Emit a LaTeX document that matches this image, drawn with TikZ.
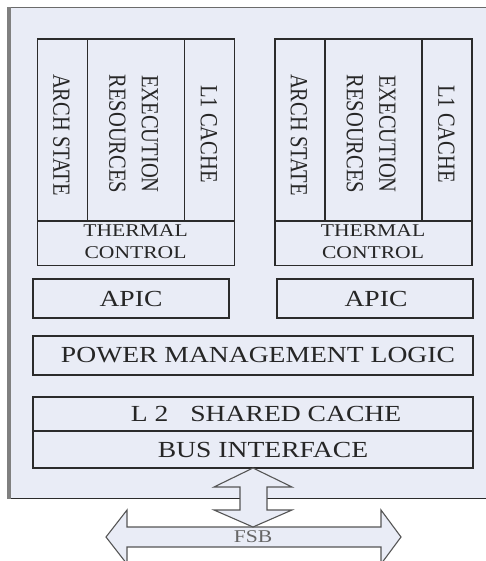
\documentclass[tikz,border=0pt]{standalone}
\usepackage{fontspec}
\setmainfont{Liberation Serif}
\usepackage{graphicx}

\definecolor{panelfill}{HTML}{E9ECF6}
\definecolor{edgecol}{HTML}{2B2B2B}
\definecolor{busedge}{HTML}{555555}

\newcommand{\wide}[1]{\scalebox{1.2}[1]{#1}}
\newcommand{\tall}[1]{\scalebox{1}[1.2]{#1}}

\tikzset{
  unit/.style={draw=edgecol, line width=1.3pt},
  lbl/.style={font=\fontsize{23}{27}\selectfont, text=black!85, inner sep=0pt},
  smalllbl/.style={font=\fontsize{18}{21}\selectfont, text=black!85, inner sep=0pt},
  vlbl/.style={font=\fontsize{20.5}{24}\selectfont, text=black!85, inner sep=0pt, rotate=-90},
  busarrow/.style={fill=panelfill, draw=busedge, line width=1.1pt, line join=miter},
}

\begin{document}
\begin{tikzpicture}[x=1pt, y=-1pt]
  \useasboundingbox (0,0) rectangle (486,561);
  \clip (0,0) rectangle (486,561);
  % chip outline
  \fill[panelfill] (9,7.5) rectangle (490,498.5);
  \draw[edgecol!70, line width=1pt] (9,7.5) -- (490,7.5);
  \draw[edgecol, line width=1pt] (9,498.5) -- (490,498.5);
  \draw[gray, line width=3.5pt] (9,7.5) -- (9,498.5);
  % two cores
  \foreach \x/\n in {37.5/L, 275/R} {
    \begin{scope}[xshift=\x pt]
      \draw[unit] (0,39) rectangle (197,265.5);
      \draw[unit] (0,221) -- (197,221);
      \draw[unit] (50,39) -- (50,221);
      \draw[unit] (147,39) -- (147,221);
      \node[vlbl] (arch\n) at (24,135) {\tall{ARCH STATE}};
      \node[vlbl] (exec\n) at (112.5,134) {\tall{EXECUTION}};
      \node[vlbl] (res\n) at (80,134) {\tall{RESOURCES}};
      \node[vlbl] (lone\n) at (171.5,134) {\tall{L1 CACHE}};
      \node[smalllbl] (therm\n) at (98,231) {\wide{THERMAL}};
      \node[smalllbl] (ctrl\n) at (98,253) {\wide{CONTROL}};
    \end{scope}
  }
  % shared blocks
  \draw[unit] (33,279) rectangle (229,318);
  \node[lbl] (apicL) at (131,298.5) {\wide{APIC}};
  \draw[unit] (277,279) rectangle (473,318);
  \node[lbl] (apicR) at (376,298.5) {\wide{APIC}};
  \draw[unit] (33,336) rectangle (473,375);
  \node[lbl] (pml) at (258,355) {\wide{POWER MANAGEMENT LOGIC}};
  \draw[unit] (33,397) rectangle (473,468);
  \draw[unit] (33,431) -- (473,431);
  \node[lbl] (ltwo) at (266,414) {\wide{L 2\hspace{0.8em}SHARED CACHE}};
  \node[lbl] (bus) at (263,449.5) {\wide{BUS INTERFACE}};
  % front side bus
  \draw[busarrow] (106,537) -- (127,510) -- (127,527) -- (381,527) -- (381,510)
    -- (401,537) -- (381,564) -- (381,547) -- (127,547) -- (127,564) -- cycle;
  \draw[busarrow] (253,468) -- (292,487) -- (267,487) -- (267,510) -- (292,510)
    -- (253,527) -- (214,510) -- (240,510) -- (240,487) -- (214,487) -- cycle;
  \node[smalllbl, text=black!60] (fsb) at (253,537) {\wide{FSB}};
\end{tikzpicture}
\end{document}
